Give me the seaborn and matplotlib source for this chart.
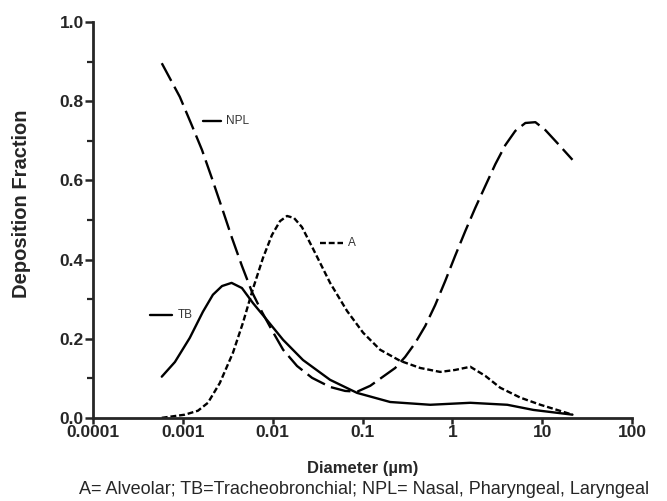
import pandas as pd
import seaborn as sns
import matplotlib.pyplot as plt
from matplotlib.ticker import FixedLocator, NullLocator, FixedFormatter

# diametre (um) ve birikim fraksiyonu
npl_d = [0.000586, 0.00093, 0.00126, 0.00164, 0.00211, 0.00274, 0.00353, 0.00456, 0.0059,
         0.0076, 0.0098, 0.0131, 0.0187, 0.0275, 0.0436, 0.064, 0.087, 0.122, 0.169,
         0.231, 0.298, 0.385, 0.498, 0.643, 0.832, 1.07, 1.39, 1.79, 2.32, 3.0, 3.87,
         5.0, 6.47, 8.36, 10.8, 14.7, 21.6]
npl_f = [0.896, 0.811, 0.740, 0.677, 0.606, 0.530, 0.455, 0.384, 0.318,
         0.268, 0.222, 0.172, 0.131, 0.101, 0.078, 0.068, 0.066, 0.081, 0.104,
         0.126, 0.154, 0.189, 0.232, 0.285, 0.346, 0.409, 0.472, 0.530, 0.586, 0.641, 0.689,
         0.725, 0.745, 0.747, 0.727, 0.694, 0.652]

tb_d = [0.000586, 0.00082, 0.0012, 0.00168, 0.00217, 0.00274, 0.0035, 0.00456, 0.00605,
        0.00867, 0.0131, 0.0218, 0.0436, 0.087, 0.203, 0.566, 1.58, 4.07, 7.94, 21.6]
tb_f = [0.104, 0.141, 0.202, 0.268, 0.311, 0.333, 0.341, 0.328, 0.290,
        0.247, 0.197, 0.146, 0.096, 0.063, 0.040, 0.033, 0.038, 0.033, 0.020, 0.008]

a_d = [0.000586, 0.00106, 0.00148, 0.00191, 0.00259, 0.00362, 0.00468, 0.00605, 0.00782,
       0.00984, 0.0121, 0.0145, 0.0173, 0.0212, 0.0282, 0.0436, 0.0673, 0.1016, 0.157,
       0.262, 0.438, 0.731, 1.07, 1.58, 2.32, 3.40, 5.69, 9.5, 21.6]
a_f = [0.0, 0.008, 0.018, 0.038, 0.088, 0.164, 0.240, 0.326, 0.404,
       0.462, 0.497, 0.510, 0.505, 0.482, 0.427, 0.341, 0.270, 0.215, 0.172,
       0.144, 0.126, 0.116, 0.121, 0.129, 0.106, 0.076, 0.051, 0.033, 0.008]

# egri etiketleri: kisa cizgi + yazi
lbl_names = ["NPL", "TB", "A"]
lbl_x0 = [0.00168, 0.00043, 0.034]
lbl_x1 = [0.00266, 0.00076, 0.060]
lbl_y = [0.75, 0.26, 0.442]

x_ticks = [0.0001, 0.001, 0.01, 0.1, 1, 10, 100]
x_tick_labels = ["0.0001", "0.001", "0.01", "0.1", "1", "10", "100"]
y_ticks = [0.0, 0.2, 0.4, 0.6, 0.8, 1.0]
y_minor = [0.1, 0.3, 0.5, 0.7, 0.9]

caption = "A= Alveolar; TB=Tracheobronchial; NPL= Nasal, Pharyngeal, Laryngeal"

df = pd.concat([
    pd.DataFrame({"d": npl_d, "f": npl_f, "bolge": "NPL"}),
    pd.DataFrame({"d": tb_d, "f": tb_f, "bolge": "TB"}),
    pd.DataFrame({"d": a_d, "f": a_f, "bolge": "A"}),
], ignore_index=True)

sns.set_style("ticks")
plt.rcParams["font.family"] = ["Liberation Sans", "DejaVu Sans"]

fig = plt.figure(figsize=(6.67, 5.01), dpi=100)
ax = fig.add_axes([0.139, 0.166, 0.809, 0.790])

sns.lineplot(data=df, x="d", y="f", style="bolge", color="black", linewidth=1.7,
             dashes={"NPL": (8.5, 2.8), "TB": "", "A": (2.5, 1.2)},
             estimator=None, sort=False, legend=False, ax=ax)

for name, x0, x1, y in zip(lbl_names, lbl_x0, lbl_x1, lbl_y):
    ls = (0, (2.5, 1.2)) if name == "A" else "-"
    ax.plot([x0, x1], [y, y], color="black", linewidth=1.7, linestyle=ls)
    ax.text(x1 * 1.15, y, name, fontsize=8.5, color="#333333", va="center", ha="left")

ax.set_xscale("log")
ax.set_xlim(0.0001, 100)
ax.set_ylim(0, 1.0)
ax.xaxis.set_major_locator(FixedLocator(x_ticks))
ax.xaxis.set_major_formatter(FixedFormatter(x_tick_labels))
ax.xaxis.set_minor_locator(NullLocator())
ax.yaxis.set_major_locator(FixedLocator(y_ticks))
ax.yaxis.set_minor_locator(FixedLocator(y_minor))
ax.set_yticklabels([f"{v:.1f}" for v in y_ticks])

for lab in ax.get_xticklabels() + ax.get_yticklabels():
    lab.set_fontweight("bold")
    lab.set_fontsize(12.5)
ax.tick_params(axis="x", which="major", direction="out", length=4.5, width=1.8, pad=1)
ax.tick_params(axis="y", which="major", direction="out", length=5.5, width=1.8, pad=1)
ax.tick_params(axis="y", which="minor", direction="out", length=4.5, width=1.6)

sns.despine(ax=ax)
for sp in ["left", "bottom"]:
    ax.spines[sp].set_linewidth(2.0)

ax.set_xlabel("Diameter (\u00b5m)", fontsize=12, fontweight="bold", labelpad=15)
ax.set_ylabel("Deposition Fraction", fontsize=14.5, fontweight="bold")
ax.yaxis.set_label_coords(-0.115, 0.54)
fig.text(0.546, 0.022, caption, fontsize=13, ha="center", va="center")

fig.savefig("out.png", dpi=100)
